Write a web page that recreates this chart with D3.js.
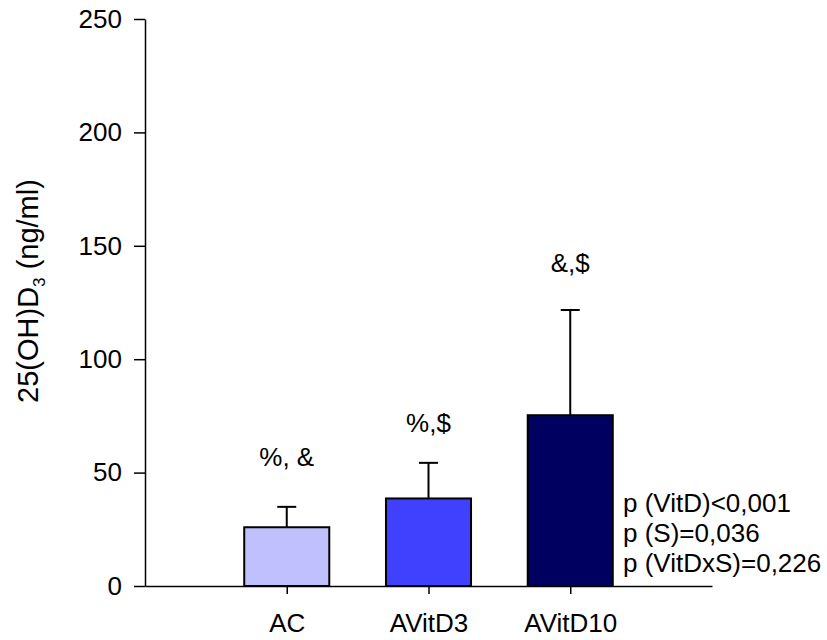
<!DOCTYPE html>
<html>
<head>
<meta charset="utf-8">
<script src="https://cdn.jsdelivr.net/npm/d3@7"></script>
<style>
  body { margin: 0; background: #fff; }
  svg { display: block; font-family: "Liberation Sans", Arial, sans-serif; }
</style>
</head>
<body>
<svg id="chart" width="827" height="640"></svg>
<script>
// 25(OH)D3 per group, mean + SD
const categories = ["AC", "AVitD3", "AVitD10"];
const means      = [25.9, 38.6, 75.3];
const errors     = [9.0, 15.7, 46.4];      // upper error (SD)
const annotations = ["%, &", "%,$", "&,$"];
const annotY      = [52.8, 68, 138.6];      // label baseline, in data units
const colors      = ["#c0c0ff", "#4040ff", "#000060"];
const yTicks      = [0, 50, 100, 150, 200, 250];
const pValues     = ["p (VitD)<0,001", "p (S)=0,036", "p (VitDxS)=0,226"];

const data = categories.map((name, i) => ({
  name, mean: means[i], err: errors[i], note: annotations[i], noteY: annotY[i], color: colors[i]
}));

const svg = d3.select("#chart");

const x = d3.scalePoint()
  .domain(categories)
  .range([145, 712])
  .padding(1);

const y = d3.scaleLinear()
  .domain([0, 250])
  .range([586, 19]);

const barW = x.step() * 0.6;
const capW = 19;

// axes
const yAxisG = svg.append("g")
  .attr("transform", "translate(145,0)")
  .call(d3.axisLeft(y).tickValues(yTicks).tickSize(11).tickSizeOuter(0).tickPadding(12));

const xAxisG = svg.append("g")
  .attr("transform", "translate(0,586)")
  .call(d3.axisBottom(x).tickSize(8).tickSizeOuter(0).tickPadding(20));

svg.selectAll(".domain, .tick line")
  .attr("stroke", "#000")
  .attr("stroke-width", 1.5);
svg.selectAll(".tick text")
  .attr("font-family", "Liberation Sans, Arial, sans-serif")
  .attr("font-size", 26)
  .attr("fill", "#000");

// error bars (drawn first, bar covers the lower part)
const eb = svg.append("g").selectAll("g")
  .data(data)
  .join("g");

eb.append("line")
  .attr("x1", d => x(d.name)).attr("x2", d => x(d.name))
  .attr("y1", d => y(d.mean)).attr("y2", d => y(d.mean + d.err))
  .attr("stroke", "#000").attr("stroke-width", 2);

eb.append("line")
  .attr("x1", d => x(d.name) - capW / 2).attr("x2", d => x(d.name) + capW / 2)
  .attr("y1", d => y(d.mean + d.err)).attr("y2", d => y(d.mean + d.err))
  .attr("stroke", "#000").attr("stroke-width", 2);

// bars
svg.append("g").selectAll("rect")
  .data(data)
  .join("rect")
  .attr("x", d => x(d.name) - barW / 2)
  .attr("y", d => y(d.mean))
  .attr("width", barW)
  .attr("height", d => y(0) - y(d.mean))
  .attr("fill", d => d.color)
  .attr("stroke", "#000")
  .attr("stroke-width", 2);

// redraw x axis line on top of bar outlines
xAxisG.raise();

// significance marks
svg.append("g").selectAll("text")
  .data(data)
  .join("text")
  .attr("x", d => x(d.name))
  .attr("y", d => y(d.noteY))
  .attr("text-anchor", "middle")
  .attr("font-size", 26)
  .text(d => d.note);

// p-values
svg.append("g").selectAll("text")
  .data(pValues)
  .join("text")
  .attr("x", 623)
  .attr("y", (d, i) => 512 + i * 30)
  .attr("font-size", 26)
  .text(d => d);

// y axis title
const title = svg.append("text")
  .attr("transform", "translate(38,291) rotate(-90)")
  .attr("text-anchor", "middle")
  .attr("font-size", 29);
title.append("tspan").text("25(OH)D");
title.append("tspan").attr("font-size", 17).attr("dy", 7).text("3");
title.append("tspan").attr("dy", -7).text(" (ng/ml)");
</script>
</body>
</html>
